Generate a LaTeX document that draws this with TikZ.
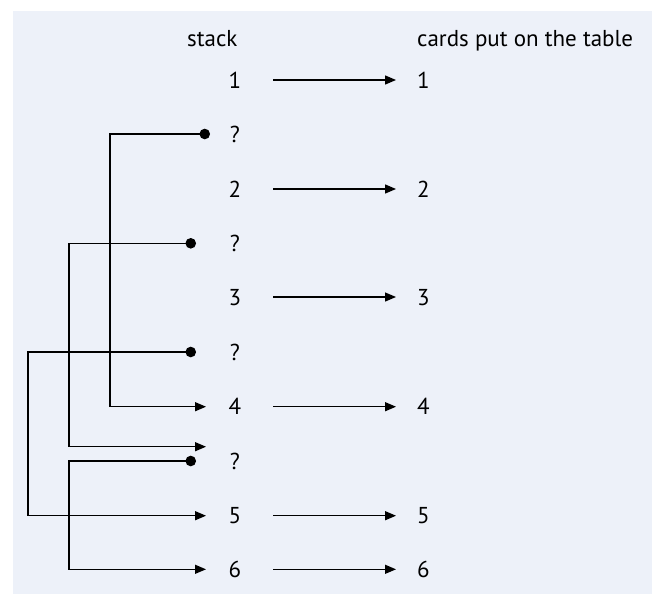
\documentclass[tikz,border=0pt]{standalone}
\usepackage{fontspec}
\setmainfont{PT Sans}
\usetikzlibrary{arrows.meta,calc}
\definecolor{bgcol}{RGB}{237,241,249}
\begin{document}
\begin{tikzpicture}[x=1pt,y=-1pt,
  lbl/.style={font=\fontsize{23}{26}\selectfont, inner sep=0pt, anchor=base},
  rlbl/.style={lbl, anchor=base west},
  arr/.style={line width=1.3pt, -{Triangle[length=11pt,width=9pt]}},
  dotarr/.style={line width=1.3pt, {Circle[length=10.5pt]}-{Triangle[length=11pt,width=9pt]}}]
\useasboundingbox (0,0) rectangle (652,595);
\fill[bgcol] (13,11) rectangle (652,594);

% headers
\node[lbl, anchor=base west] (hs) at (187,46) {stack};
\node[lbl, anchor=base west] (ht) at (417,46) {cards put on the table};

% stack labels
\node[lbl] (s1) at (235,88) {1};
\node[lbl] (q1) at (235,142) {?};
\node[lbl] (s2) at (235,197) {2};
\node[lbl] (q2) at (235,251) {?};
\node[lbl] (s3) at (235,305) {3};
\node[lbl] (q3) at (235,360) {?};
\node[lbl] (s4) at (235,414) {4};
\node[lbl] (q4) at (235,469) {?};
\node[lbl] (s5) at (235,523) {5};
\node[lbl] (s6) at (235,577) {6};

% table labels
\node[rlbl] (t1) at (417,88) {1};
\node[rlbl] (t2) at (417,197) {2};
\node[rlbl] (t3) at (417,305) {3};
\node[rlbl] (t4) at (417,414) {4};
\node[rlbl] (t5) at (417,523) {5};
\node[rlbl] (t6) at (417,577) {6};

% arrow end points
\coordinate (a1l) at (273,80);   \coordinate (a1r) at (396,80);
\coordinate (a2l) at (273,189);  \coordinate (a2r) at (396,189);
\coordinate (a3l) at (273,297);  \coordinate (a3r) at (396,297);
\coordinate (a4l) at (273,406.7);\coordinate (a4r) at (396,406.7);
\coordinate (a5l) at (273,515.7);\coordinate (a5r) at (396,515.7);
\coordinate (a6l) at (273,569.3);\coordinate (a6r) at (396,569.3);

\draw[arr] (a1l) -- (a1r);
\draw[arr] (a2l) -- (a2r);
\draw[arr] (a3l) -- (a3r);
\draw[arr] (a4l) -- (a4r);
\draw[arr] (a5l) -- (a5r);
\draw[arr] (a6l) -- (a6r);

% dots
\coordinate (d1) at (210,134);
\coordinate (d2) at (196,243.3);
\coordinate (d3) at (196,352);
\coordinate (d4) at (196,461);
% insertion targets
\coordinate (e4) at (206,406.7);
\coordinate (eslot) at (206,446.7);
\coordinate (e5) at (206,515.7);
\coordinate (e6) at (206,569.3);
% vertical lanes
\coordinate (v1) at (110,0);
\coordinate (v2) at (69,0);
\coordinate (v3) at (28,0);

\draw[dotarr] (d1) -- (d1 -| v1) |- (e4);
\draw[dotarr] (d2) -- (d2 -| v2) |- (eslot);
\draw[dotarr] (d3) -- (d3 -| v3) |- (e5);
\draw[dotarr] (d4) -- (d4 -| v2) |- (e6);
\end{tikzpicture}
\end{document}
